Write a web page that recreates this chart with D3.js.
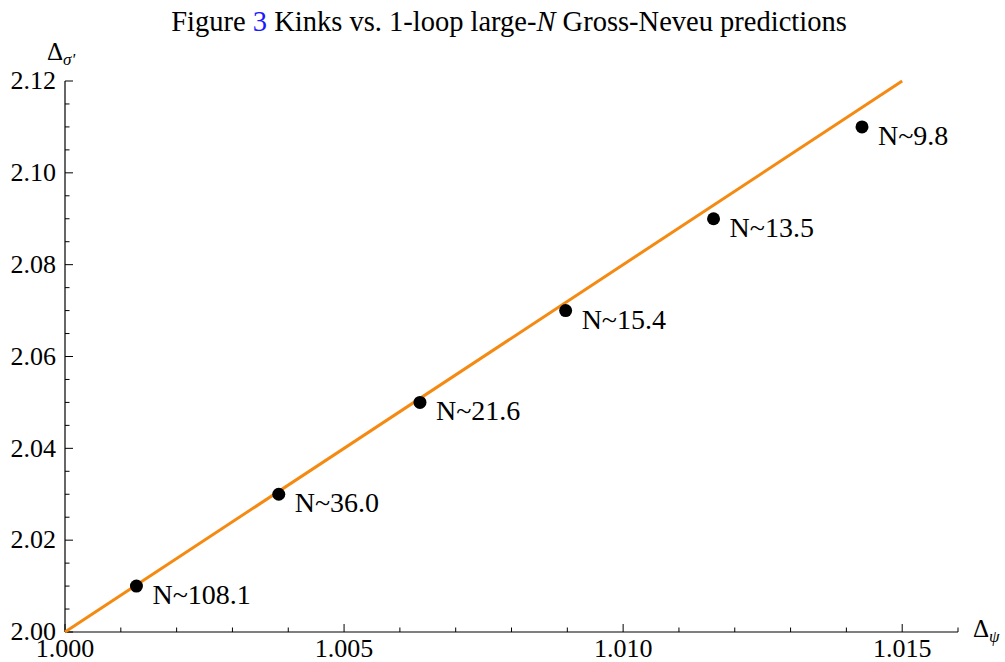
<!DOCTYPE html>
<html>
<head>
<meta charset="utf-8">
<script src="https://cdnjs.cloudflare.com/ajax/libs/d3/7.8.5/d3.min.js"></script>
<style>
  body { margin: 0; background: #fff; }
</style>
</head>
<body>
<svg width="1005" height="662"></svg>
<script>
const width = 1005;
const height = 662;
const times = "Liberation Serif";

// kink positions
const deltaPsi = [1.00128, 1.00383, 1.00636, 1.00897, 1.01162, 1.01428];
const deltaSigma = [2.01, 2.03, 2.05, 2.07, 2.09, 2.11];
const labels = ["N~108.1", "N~36.0", "N~21.6", "N~15.4", "N~13.5", "N~9.8"];

// large-N prediction line endpoints
const lineX = [1.000, 1.015];
const lineY = [2.00, 2.12];

const xTicks = [1.000, 1.005, 1.010, 1.015];
const yTicks = [2.00, 2.02, 2.04, 2.06, 2.08, 2.10, 2.12];

const svg = d3.select("svg");

const x = d3.scaleLinear().domain([1.000, 1.016]).range([65, 958]);
const y = d3.scaleLinear().domain([2.00, 2.12]).range([632, 81]);

// title
const title = svg.append("text")
    .attr("x", 509)
    .attr("y", 31)
    .attr("text-anchor", "middle")
    .attr("font-family", times)
    .attr("font-size", 28.5);
title.append("tspan").text("Figure ");
title.append("tspan").attr("fill", "#1a1aff").text("3");
title.append("tspan").text(" Kinks vs. 1-loop large-");
title.append("tspan").attr("font-style", "italic").text("N");
title.append("tspan").text(" Gross-Neveu predictions");

// x axis
const xAxis = svg.append("g").attr("transform", `translate(0, ${y(2.00)})`);
xAxis.append("line")
    .attr("x1", x(1.000)).attr("x2", x(1.016))
    .attr("stroke", "#000").attr("stroke-width", 1.2);
const xMinor = d3.range(0, 17).map(i => 1 + i * 0.001);
xAxis.selectAll(".xt")
    .data(xMinor)
    .enter()
    .append("line")
    .attr("x1", d => x(d)).attr("x2", d => x(d))
    .attr("y1", 0)
    .attr("y2", (d, i) => i % 5 === 0 ? -8 : -4.5)
    .attr("stroke", "#000").attr("stroke-width", 1);
xAxis.selectAll(".xl")
    .data(xTicks)
    .enter()
    .append("text")
    .attr("x", d => x(d))
    .attr("y", 25)
    .attr("text-anchor", "middle")
    .attr("font-family", times)
    .attr("font-size", 26)
    .text(d3.format(".3f"));

// y axis
const yAxis = svg.append("g").attr("transform", `translate(${x(1.000)}, 0)`);
yAxis.append("line")
    .attr("y1", y(2.00)).attr("y2", y(2.12))
    .attr("stroke", "#000").attr("stroke-width", 1.2);
const yMinor = d3.range(0, 25).map(i => 2 + i * 0.005);
yAxis.selectAll(".yt")
    .data(yMinor)
    .enter()
    .append("line")
    .attr("y1", d => y(d)).attr("y2", d => y(d))
    .attr("x1", 0)
    .attr("x2", (d, i) => i % 4 === 0 ? 8 : 4.5)
    .attr("stroke", "#000").attr("stroke-width", 1);
yAxis.selectAll(".yl")
    .data(yTicks)
    .enter()
    .append("text")
    .attr("x", -9)
    .attr("y", d => y(d))
    .attr("dy", "0.32em")
    .attr("text-anchor", "end")
    .attr("font-family", times)
    .attr("font-size", 26)
    .text(d3.format(".2f"));

// axis labels
const yLab = svg.append("text").attr("x", 47).attr("y", 60)
    .attr("font-family", times).attr("font-size", 25);
yLab.append("tspan").text("Δ");
yLab.append("tspan").attr("dy", 5).attr("font-size", 17).attr("font-style", "italic").text("σ'");

const xLab = svg.append("text").attr("x", 973).attr("y", 637)
    .attr("font-family", times).attr("font-size", 25);
xLab.append("tspan").text("Δ");
xLab.append("tspan").attr("dy", 5).attr("font-size", 17).attr("font-style", "italic").text("ψ");

// prediction line
svg.append("line")
    .attr("x1", x(lineX[0])).attr("y1", y(lineY[0]))
    .attr("x2", x(lineX[1])).attr("y2", y(lineY[1]))
    .attr("stroke", "#f58a12")
    .attr("stroke-width", 3);

// kinks
const pts = deltaPsi.map((d, i) => ({ x: d, y: deltaSigma[i], label: labels[i] }));
svg.selectAll(".dot")
    .data(pts)
    .enter()
    .append("circle")
    .attr("cx", d => x(d.x))
    .attr("cy", d => y(d.y))
    .attr("r", 6.5)
    .attr("fill", "#000");
svg.selectAll(".lab")
    .data(pts)
    .enter()
    .append("text")
    .attr("x", d => x(d.x) + 16)
    .attr("y", d => y(d.y) + 18)
    .attr("font-family", times)
    .attr("font-size", 28)
    .text(d => d.label);
</script>
</body>
</html>
